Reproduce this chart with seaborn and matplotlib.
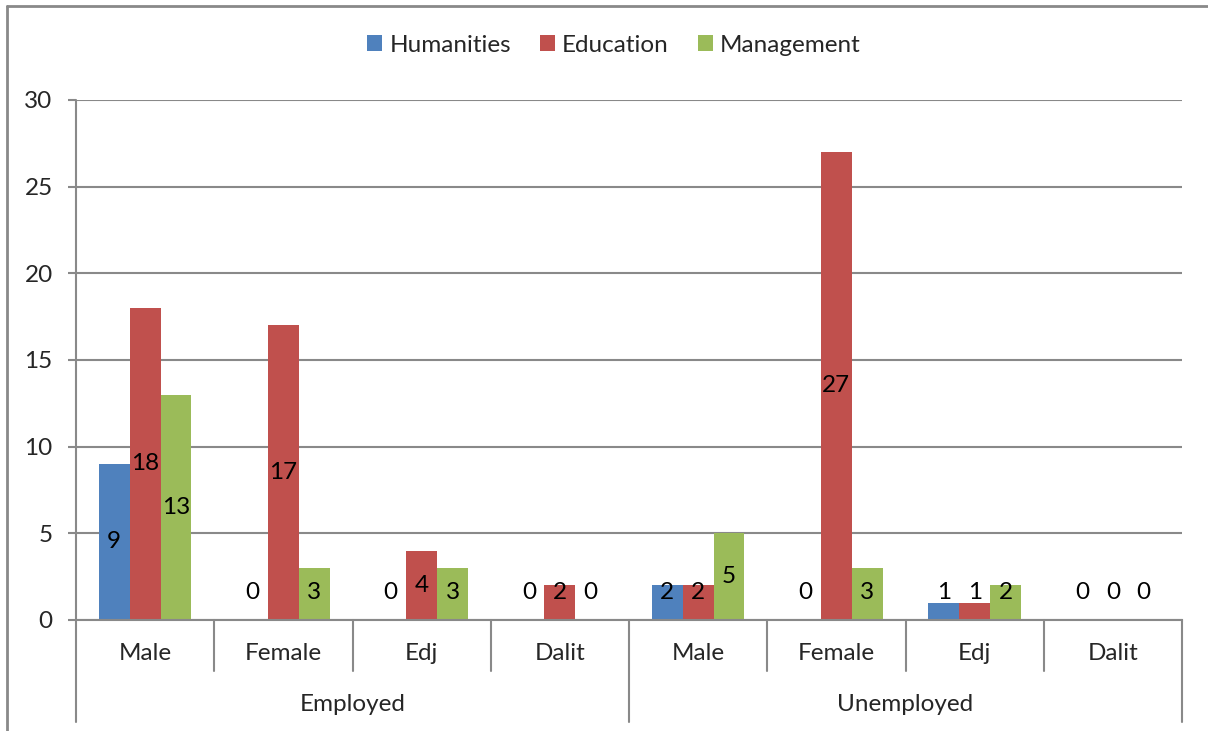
# %%
import numpy as np
import pandas as pd
import matplotlib.pyplot as plt
from matplotlib.lines import Line2D
from matplotlib.patches import Patch
from matplotlib.transforms import blended_transform_factory
import seaborn as sns

# %% data
status = ["Employed"] * 4 + ["Unemployed"] * 4
groups = ["Male", "Female", "Edj", "Dalit"] * 2
humanities = [9, 0, 0, 0, 2, 0, 1, 0]
education = [18, 17, 4, 2, 2, 27, 1, 0]
management = [13, 3, 3, 0, 5, 3, 2, 0]
fields = ["Humanities", "Education", "Management"]
colors = ["#4F81BD", "#C0504D", "#9BBB59"]
yticks = [0, 5, 10, 15, 20, 25, 30]

slots = [s + "|" + g for s, g in zip(status, groups)]
df = pd.DataFrame({
    "slot": slots * 3,
    "field": np.repeat(fields, len(slots)),
    "count": humanities + education + management,
})

# %% plot
sns.set_theme(style="white")
plt.rcParams["font.family"] = ["Lato", "DejaVu Sans"]
gray = "#898989"
fs = 17.5

fig = plt.figure(figsize=(12.08, 7.31), dpi=100)
ax = fig.add_axes([76 / 1208, 111 / 731, (1182 - 76) / 1208, 520 / 731])

sns.barplot(data=df, x="slot", y="count", hue="field", order=slots,
            hue_order=fields, palette=colors, width=0.67, saturation=1,
            errorbar=None, linewidth=0, ax=ax)
ax.get_legend().remove()

ax.set_xlim(-0.5, len(slots) - 0.5)
ax.set_ylim(0, 30)
ax.set_yticks(yticks)
ax.set_xticks([])
ax.set_xlabel("")
ax.set_ylabel("")
ax.yaxis.grid(True, color=gray, linewidth=1.5)
ax.set_axisbelow(True)
ax.tick_params(axis="y", length=5.8, width=1.5, color=gray, direction="out",
               pad=11, labelsize=fs, left=True)
for s in ["top", "right", "left"]:
    ax.spines[s].set_visible(False)
ax.spines["bottom"].set_color(gray)
ax.spines["bottom"].set_linewidth(1.5)

# data labels, centred in bars, pushed up when the bar is too short
for cont in ax.containers:
    for bar in cont:
        v = bar.get_height()
        ax.text(bar.get_x() + bar.get_width() / 2, max(v / 2, 1.6), "%d" % v,
                ha="center", va="center", fontsize=fs, color="black")

# two-level category axis
tr = blended_transform_factory(ax.transData, ax.transAxes)
for i, g in enumerate(groups):
    ax.text(i, -0.065, g, transform=tr, ha="center", va="center", fontsize=fs)
for i in range(1, len(slots)):
    if i % 4 != 0:
        ax.add_line(Line2D([i - 0.5, i - 0.5], [0, -0.098], transform=tr,
                           color=gray, lw=1.5, clip_on=False))
for i in [0, 4, 8]:
    top = 1 if i == 0 else 0
    ax.add_line(Line2D([i - 0.5, i - 0.5], [top, -0.196], transform=tr,
                       color=gray, lw=1.5, clip_on=False))
for k, st in enumerate(["Employed", "Unemployed"]):
    ax.text(4 * k + 1.5, -0.163, st, transform=tr, ha="center", va="center",
            fontsize=fs)

# legend
handles = [Patch(facecolor=c, edgecolor="none") for c in colors]
fig.legend(handles, fields, loc="center", bbox_to_anchor=(614 / 1208, 1 - 45 / 731),
           ncol=3, frameon=False, fontsize=fs, handlelength=0.6, handleheight=0.6,
           handletextpad=0.3, columnspacing=1.2)

# chart border
fig.add_artist(Line2D([7 / 1208, 1], [1 - 6 / 731, 1 - 6 / 731], color=gray, lw=2))
fig.add_artist(Line2D([7 / 1208, 7 / 1208], [0, 1 - 6 / 731], color=gray, lw=2))

fig.savefig("out.png", dpi=100)
